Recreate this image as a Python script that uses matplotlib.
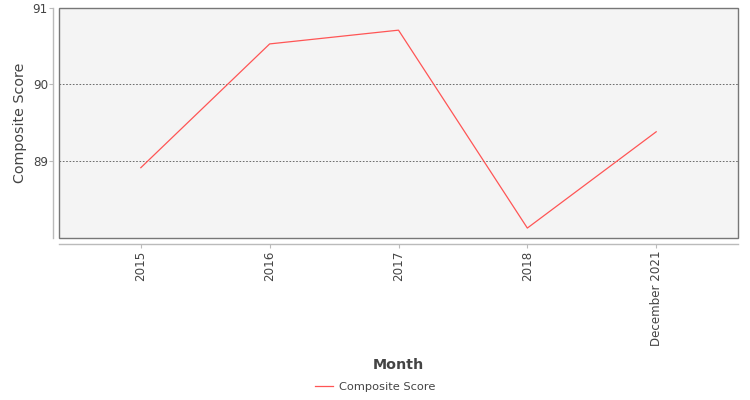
import matplotlib
matplotlib.use("Agg")
import matplotlib.pyplot as plt
from matplotlib.patches import Rectangle
from matplotlib.lines import Line2D

categories = ["2015", "2016", "2017", "2018", "December 2021"]
scores = [88.91, 90.53, 90.71, 88.12, 89.38]
yticks = [89, 90, 91]

plt.rcParams['font.family'] = ['DejaVu Sans']

fig = plt.figure(figsize=(7.5, 4), dpi=100)
ax = fig.add_axes([59/750, 1-238/400, (738-59)/750, (238-8)/400])
ax.set_facecolor('#f4f4f4')

x = list(range(len(categories)))
ax.plot(x, scores, color='#ff5555', linewidth=0.9, label='Composite Score')

ax.set_xlim(-0.635, len(categories) - 1 + 0.635)
ax.set_ylim(87.99, 91.0)
ax.set_yticks(yticks)
ax.set_yticklabels([str(t) for t in yticks])
ax.set_xticks(x)
ax.set_xticklabels(categories)

ax.grid(axis='y', color='#555555', linestyle=(0, (2, 2)), linewidth=0.6)
ax.set_axisbelow(True)

for s in ['top', 'right']:
    ax.spines[s].set_visible(False)
for s in ['left', 'bottom']:
    ax.spines[s].set_position(('outward', 4))
    ax.spines[s].set_color('#bbbbbb')
    ax.spines[s].set_linewidth(1.0)

ax.add_patch(Rectangle((0, 0), 1, 1, transform=ax.transAxes, fill=False,
                       edgecolor='#777777', linewidth=1.0, zorder=5, clip_on=False))

ax.tick_params(axis='both', colors='#bbbbbb', labelcolor='#444444', labelsize=8.6,
               length=3, width=0.8)
ax.tick_params(axis='x', pad=2, labelrotation=90)
ax.tick_params(axis='y', pad=1)

ax.set_ylabel('Composite Score', fontsize=10.3, color='#444444', labelpad=4, fontweight='medium')
ax.set_xlabel('Month', fontsize=10.3, color='#444444', fontweight='bold', labelpad=8.5)

handle = Line2D([], [], color='#ff5555', linewidth=0.9)
fig.legend([handle], ['Composite Score'], loc='center', bbox_to_anchor=(375/750, 1-387/400),
           frameon=False, fontsize=8.2, handlelength=1.6, handletextpad=0.5,
           labelcolor='#444444')

fig.savefig('out.png', dpi=100)
